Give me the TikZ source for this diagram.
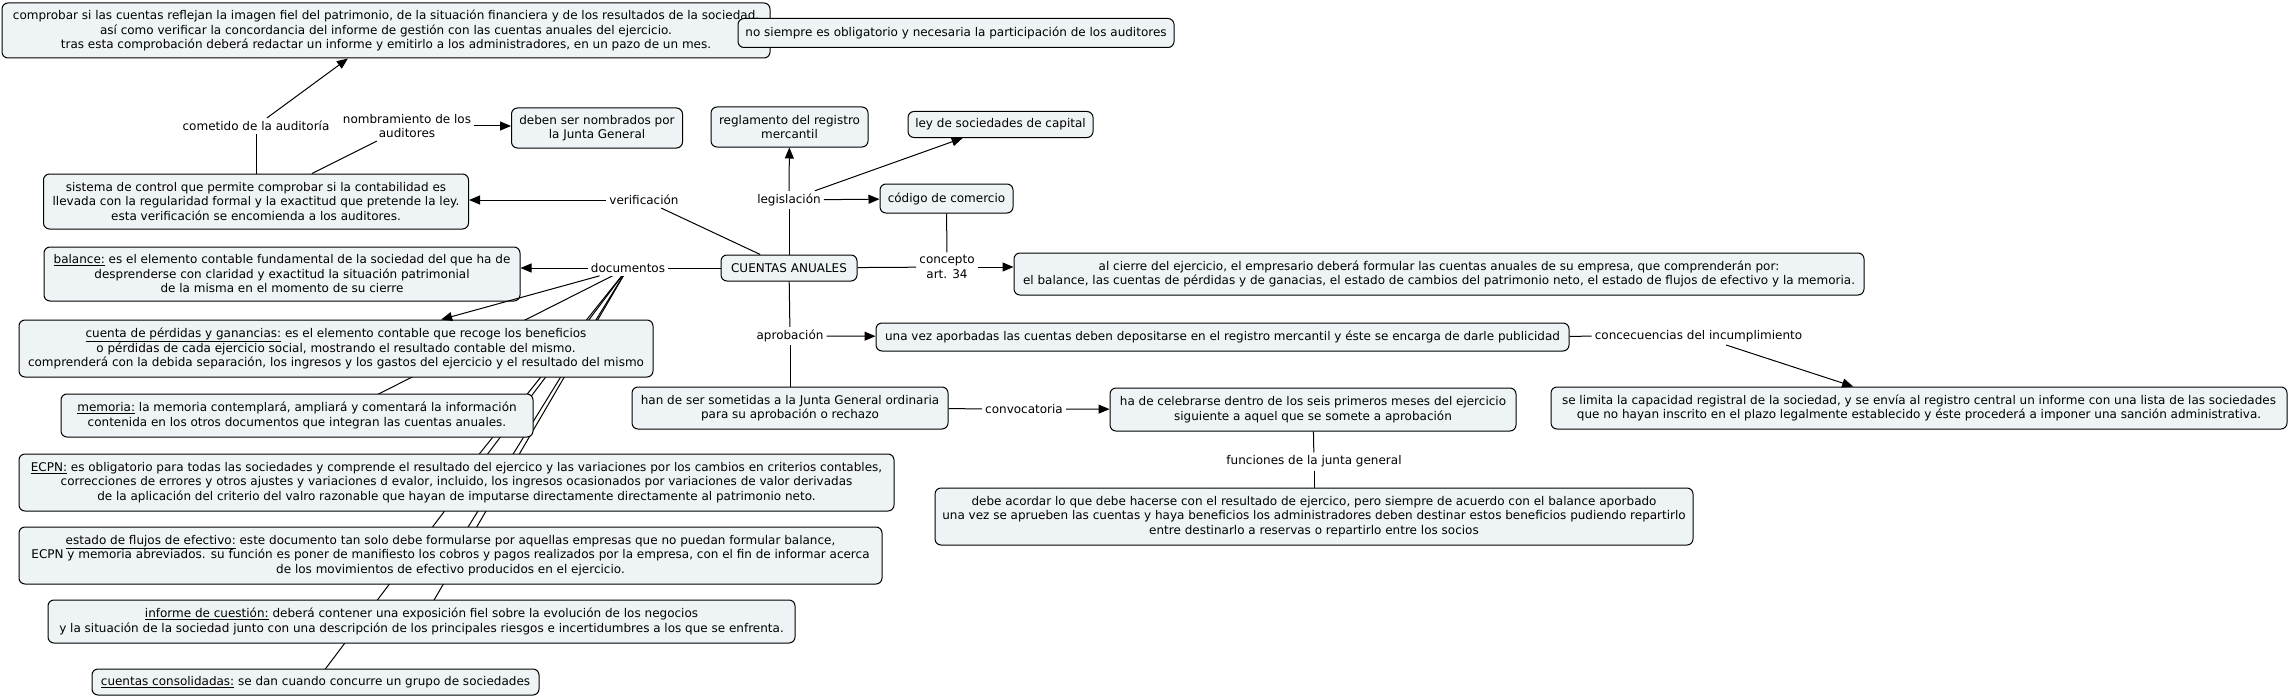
\documentclass[tikz,border=0pt]{standalone}
\usepackage{fontspec}
\setmainfont{DejaVu Sans}
\usetikzlibrary{arrows.meta}
\pgfdeclarelayer{background}
\pgfdeclarelayer{canvas}
\pgfsetlayers{canvas,background,main}
\definecolor{boxfill}{RGB}{238,243,246}
\newcommand{\cmfont}{\fontsize{12}{14.5}\selectfont}
\begin{document}
\begin{tikzpicture}[x=1pt,y=-1pt,
  box/.style={draw, line width=1pt, rounded corners=6pt, fill=boxfill, align=center, inner sep=0pt, font=\cmfont},
  lbl/.style={fill=white, inner sep=3pt, align=center, font=\cmfont},
  arr/.style={-{Triangle[length=11pt,width=9pt]}, line width=1pt},
  ln/.style={line width=1pt}]
\begin{pgfonlayer}{canvas}
\fill[white] (0,0) rectangle (2290,698);
\end{pgfonlayer}
\useasboundingbox (0,0) rectangle (2290,698);

% concepts
\node[box, minimum width=768pt, minimum height=55pt] (top) at (386,30.5) {comprobar si las cuentas reflejan la imagen fiel del patrimonio, de la situación financiera y de los resultados de la sociedad.\\así como verificar la concordancia del informe de gestión con las cuentas anuales del ejercicio.\\tras esta comprobación deberá redactar un informe y emitirlo a los administradores, en un pazo de un mes.};
\node[box, minimum width=436pt, minimum height=29pt] (nos) at (956,33) {no siempre es obligatorio y necesaria la participación de los auditores};
\node[box, minimum width=171pt, minimum height=40pt] (deben) at (597,128) {deben ser nombrados por\\la Junta General};
\node[box, minimum width=157pt, minimum height=40pt] (regl) at (789.5,127) {reglamento del registro\\mercantil};
\node[box, minimum width=185pt, minimum height=26pt] (ley) at (1000.5,124.5) {ley de sociedades de capital};
\node[box, minimum width=133pt, minimum height=29pt] (cod) at (946.5,198.5) {código de comercio};
\node[box, minimum width=136pt, minimum height=26pt] (ca) at (789,268) {CUENTAS ANUALES};
\node[box, minimum width=850pt, minimum height=42pt] (cierre) at (1439,274) {al cierre del ejercicio, el empresario deberá formular las cuentas anuales de su empresa, que comprenderán por:\\el balance, las cuentas de pérdidas y de ganacias, el estado de cambios del patrimonio neto, el estado de flujos de efectivo y la memoria.};
\node[box, minimum width=425pt, minimum height=55pt] (sist) at (256,201.5) {sistema de control que permite comprobar si la contabilidad es\\llevada con la regularidad formal y la exactitud que pretende la ley.\\esta verificación se encomienda a los auditores.};
\node[box, minimum width=476pt, minimum height=54pt] (bal) at (282,274) {\underline{balance:} es el elemento contable fundamental de la sociedad del que ha de\\desprenderse con claridad y exactitud la situación patrimonial\\de la misma en el momento de su cierre};
\node[box, minimum width=634pt, minimum height=57pt] (cue) at (336,348.5) {\underline{cuenta de pérdidas y ganancias:} es el elemento contable que recoge los beneficios\\o pérdidas de cada ejercicio social, mostrando el resultado contable del mismo.\\comprenderá con la debida separación, los ingresos y los gastos del ejercicio y el resultado del mismo};
\node[box, minimum width=472pt, minimum height=43pt] (mem) at (297,415.5) {\underline{memoria:} la memoria contemplará, ampliará y comentará la información\\contenida en los otros documentos que integran las cuentas anuales.};
\node[box, minimum width=875pt, minimum height=57pt] (ecpn) at (456.5,482.5) {\underline{ECPN:} es obligatorio para todas las sociedades y comprende el resultado del ejercico y las variaciones por los cambios en criterios contables,\\correcciones de errores y otros ajustes y variaciones d evalor, incluido, los ingresos ocasionados por variaciones de valor derivadas\\de la aplicación del criterio del valro razonable que hayan de imputarse directamente directamente al patrimonio neto.};
\node[box, minimum width=863pt, minimum height=57pt] (est) at (450.5,555.5) {\underline{estado de flujos de efectivo:} este documento tan solo debe formularse por aquellas empresas que no puedan formular balance,\\ECPN y memoria abreviados. su función es poner de manifiesto los cobros y pagos realizados por la empresa, con el fin de informar acerca\\de los movimientos de efectivo producidos en el ejercicio.};
\node[box, minimum width=747pt, minimum height=43pt] (inf) at (421.5,621.5) {\underline{informe de cuestión:} deberá contener una exposición fiel sobre la evolución de los negocios\\y la situación de la sociedad junto con una descripción de los principales riesgos e incertidumbres a los que se enfrenta.};
\node[box, minimum width=447pt, minimum height=26pt] (cons) at (315.5,682) {\underline{cuentas consolidadas:} se dan cuando concurre un grupo de sociedades};
\node[box, minimum width=693pt, minimum height=28pt] (una) at (1222.5,337) {una vez aporbadas las cuentas deben depositarse en el registro mercantil y éste se encarga de darle publicidad};
\node[box, minimum width=316pt, minimum height=42pt] (han) at (790,408) {han de ser sometidas a la Junta General ordinaria\\para su aprobación o rechazo};
\node[box, minimum width=406pt, minimum height=43pt] (ha) at (1313,409.5) {ha de celebrarse dentro de los seis primeros meses del ejercicio\\siguiente a aquel que se somete a aprobación};
\node[box, minimum width=758pt, minimum height=57pt] (debe) at (1314,516.5) {debe acordar lo que debe hacerse con el resultado de ejercico, pero siempre de acuerdo con el balance aporbado\\una vez se aprueben las cuentas y haya beneficios los administradores deben destinar estos beneficios pudiendo repartirlo\\entre destinarlo a reservas o repartirlo entre los socios};
\node[box, minimum width=736pt, minimum height=42pt] (lim) at (1919,408) {se limita la capacidad registral de la sociedad, y se envía al registro central un informe con una lista de las sociedades\\que no hayan inscrito en el plazo legalmente establecido y éste procederá a imponer una sanción administrativa.};

% linking phrases
\node[lbl] (comet) at (256,126) {cometido de la auditoría};
\node[lbl] (nomb) at (407,126) {nombramiento de los\\auditores};
\node[lbl] (legis) at (789,200) {legislación};
\node[lbl] (conc) at (947,267) {concepto\\art. 34};
\node[lbl] (verif) at (644,200) {verificación};
\node[lbl] (doc) at (628,268) {documentos};
\node[lbl] (apro) at (790,336) {aprobación};
\node[lbl] (convo) at (1024,409) {convocatoria};
\node[lbl] (func) at (1314,461.5) {funciones de la junta general};
\node[lbl] (conse) at (1698.5,336) {concecuencias del incumplimiento};

% connectors hidden behind boxes
\begin{pgfonlayer}{background}
\draw[ln] (doc.center) -- ([xshift=39pt]mem.center);
\draw[ln] (doc.center) -- (ecpn.center);
\draw[ln] (doc.center) -- (est.center);
\draw[ln] (doc.center) -- (inf.center);
\draw[ln] (doc.center) -- (cons.center);
\end{pgfonlayer}

% connectors
\draw[ln] (sist) -- (comet);
\draw[arr] (comet) -- (top);
\draw[ln] (sist) -- (nomb);
\draw[arr] (nomb) -- (nomb -| deben.west);
\draw[ln] (ca) -- (legis);
\draw[arr] (legis) -- (regl);
\draw[arr] (legis) -- (ley);
\draw[arr] (legis) -- (cod);
\draw[ln] (ca) -- (verif);
\draw[arr] (verif) -- (verif -| sist.east);
\draw[ln] (ca) -- (doc);
\draw[arr] (doc) -- (doc -| bal.east);
\draw[arr] (doc) -- (cue);
\draw[ln] (cod) -- (conc);
\draw[ln] (ca) -- (conc);
\draw[arr] (conc) -- (conc -| cierre.west);
\draw[ln] (ca) -- (apro);
\draw[arr] (apro) -- (una);
\draw[ln] (apro) -- (han);
\draw[ln] (han) -- (convo);
\draw[arr] (convo) -- (ha);
\draw[ln] (ha) -- (func);
\draw[ln] (func) -- (debe);
\draw[ln] (una) -- (conse);
\draw[arr] (conse) -- (lim);
\end{tikzpicture}
\end{document}
